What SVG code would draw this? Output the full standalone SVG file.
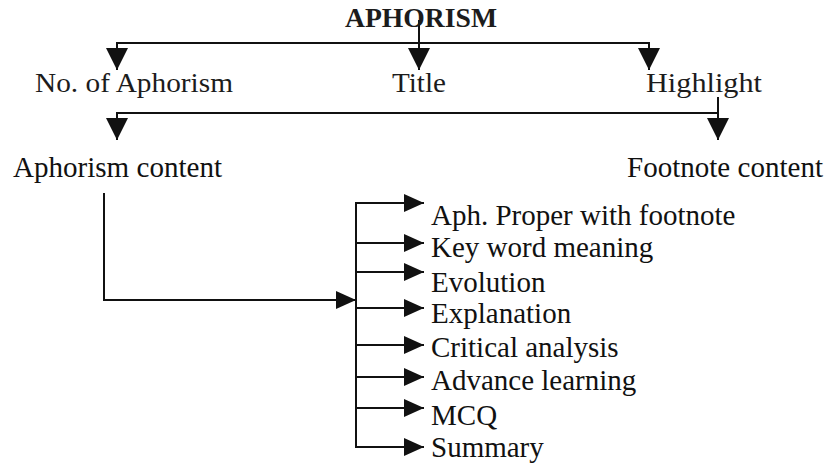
<svg xmlns="http://www.w3.org/2000/svg" width="827" height="465" viewBox="0 0 827 465">
<style>
.top{font-family:"Liberation Serif","Times New Roman",serif;font-size:27px;fill:#1c1c1c}
.hd{font-weight:bold}
.low{font-family:"Liberation Serif","Times New Roman",serif;font-size:29px;fill:#111}
.ln{fill:none;stroke:#111;stroke-width:2}
</style>
<defs>
<marker id="ad" markerUnits="userSpaceOnUse" markerWidth="23" markerHeight="22" refX="22" refY="11" orient="auto" viewBox="0 0 23 22">
<path d="M0,0 L22,11 L0,22 z" fill="#111"/>
</marker>
<marker id="ar" markerUnits="userSpaceOnUse" markerWidth="21" markerHeight="18" refX="20" refY="9" orient="auto" viewBox="0 0 21 18">
<path d="M0,0 L20,9 L0,18 z" fill="#111"/>
</marker>
</defs>
<rect width="827" height="465" fill="#fff"/>
<g id="connectors">
<path class="ln" d="M419,20 V70" marker-end="url(#ad)"/>
<path class="ln" d="M117,43 H649"/>
<path class="ln" d="M117,42 V70" marker-end="url(#ad)"/>
<path class="ln" d="M649,42 V70" marker-end="url(#ad)"/>
<path class="ln" d="M117,113 H718"/>
<path class="ln" d="M117,112 V140" marker-end="url(#ad)"/>
<path class="ln" d="M718,97 V140" marker-end="url(#ad)"/>
<path class="ln" d="M104,193 V300 H356" marker-end="url(#ar)"/>
<path class="ln" d="M356,203 V447"/>
<path class="ln" d="M355,203 H424" marker-end="url(#ar)"/>
<path class="ln" d="M356,243 H424" marker-end="url(#ar)"/>
<path class="ln" d="M356,272 H424" marker-end="url(#ar)"/>
<path class="ln" d="M356,308 H424" marker-end="url(#ar)"/>
<path class="ln" d="M356,345 H424" marker-end="url(#ar)"/>
<path class="ln" d="M356,377 H424" marker-end="url(#ar)"/>
<path class="ln" d="M356,408 H424" marker-end="url(#ar)"/>
<path class="ln" d="M355,447 H424" marker-end="url(#ar)"/>
</g>
<g id="n-aphorism"><text class="top hd" x="345" y="27" textLength="152" lengthAdjust="spacingAndGlyphs">APHORISM</text></g>
<g id="n-no"><text class="top" x="35" y="92" textLength="198" lengthAdjust="spacingAndGlyphs">No. of Aphorism</text></g>
<g id="n-title"><text class="top" x="392" y="92" textLength="54" lengthAdjust="spacingAndGlyphs">Title</text></g>
<g id="n-highlight"><text class="top" x="646" y="92" textLength="116" lengthAdjust="spacingAndGlyphs">Highlight</text></g>
<g id="n-content"><text class="low" x="13" y="177" textLength="209" lengthAdjust="spacingAndGlyphs">Aphorism content</text></g>
<g id="n-footnote"><text class="low" x="627" y="177" textLength="196" lengthAdjust="spacingAndGlyphs">Footnote content</text></g>
<g id="n-proper"><text class="low" x="431" y="225">Aph. Proper with footnote</text></g>
<g id="n-keyword"><text class="low" x="431" y="257">Key word meaning</text></g>
<g id="n-evolution"><text class="low" x="431" y="292">Evolution</text></g>
<g id="n-explanation"><text class="low" x="431" y="323">Explanation</text></g>
<g id="n-critical"><text class="low" x="431" y="357">Critical analysis</text></g>
<g id="n-advance"><text class="low" x="431" y="390">Advance learning</text></g>
<g id="n-mcq"><text class="low" x="431" y="425">MCQ</text></g>
<g id="n-summary"><text class="low" x="431" y="457">Summary</text></g>
</svg>
